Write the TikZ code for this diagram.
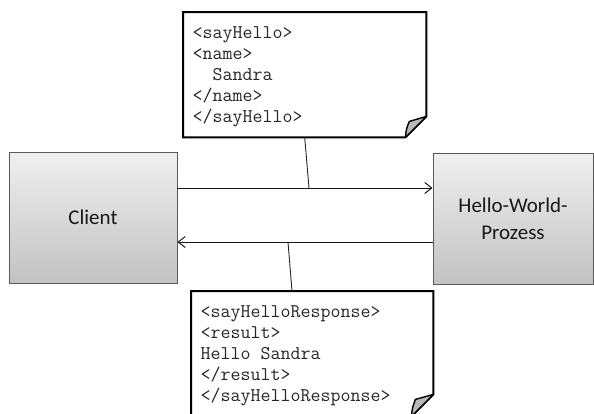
\documentclass[tikz,border=0pt]{standalone}
\usepackage{fontspec}
\setmainfont{Carlito}
\usetikzlibrary{arrows.meta,calc}

\begin{document}
\begin{tikzpicture}[x=1pt,y=-1pt,
  box/.style={draw=black!65, line width=0.9pt, top color=black!6, bottom color=black!24,
    minimum height=131pt, inner sep=0pt, align=center,
    font=\fontsize{21}{27}\selectfont, text=black!90},
  note/.style={inner xsep=9.5pt, inner ysep=0pt, minimum height=125pt, align=left,
    anchor=north west, font=\ttfamily\fontsize{19.4}{21}\selectfont, text=black!85,
    execute at begin node={\rule{0pt}{17pt}}},
  notepen/.style={line width=2pt, line join=miter},
  foldpen/.style={line width=1.4pt, line join=round, fill=black!28},
  flow/.style={line width=1pt, draw=black!90, -{Straight Barb[length=7pt,width=11pt]}},
  pin/.style={line width=0.9pt, draw=black!85}]
\useasboundingbox (0,0) rectangle (594,413);

% the two communicating parties
\node[box, minimum width=168pt] (client) at (93,217.5) {Client};
\node[box, minimum width=160pt] (proc) at (513,218.5) {Hello-World-\\Prozess};

% message points on the request and response lines
\coordinate (reqpin) at (309,188);
\coordinate (resppin) at (288,242);

\draw[flow] (client.east |- reqpin) -- (proc.west |- reqpin);
\draw[flow] (proc.west |- resppin) -- (client.east |- resppin);

% request message
\node[note, text width=224pt] (req) at (183,12)
  {<sayHello>\\<name>\\\hphantom{xx}Sandra\\</name>\\</sayHello>};
\draw[notepen] (req.north west) -- (req.north east) -- ([yshift=21pt]req.south east)
  -- ([xshift=-21pt]req.south east) -- (req.south west) -- cycle;
\filldraw[foldpen] ([xshift=-21pt]req.south east)
  .. controls ([xshift=-20pt,yshift=9pt]req.south east) .. ([xshift=-17pt,yshift=16pt]req.south east)
  -- ([yshift=21pt]req.south east) -- cycle;

% response message
\node[note, text width=223pt] (resp) at (191,291)
  {<sayHelloResponse>\\<result>\\Hello\hphantom{x}Sandra\\</result>\\</sayHelloResponse>};
\draw[notepen] (resp.north west) -- (resp.north east) -- ([yshift=22pt]resp.south east)
  -- ([xshift=-22pt]resp.south east) -- (resp.south west) -- cycle;
\filldraw[foldpen] ([xshift=-22pt]resp.south east)
  .. controls ([xshift=-21pt,yshift=9pt]resp.south east) .. ([xshift=-18pt,yshift=17pt]resp.south east)
  -- ([yshift=22pt]resp.south east) -- cycle;

% attach the messages to their lines
\draw[pin] (req.south) -- (reqpin);
\draw[pin] (resppin) -- ($(resp.north west)+(101,0)$);
\end{tikzpicture}
\end{document}
